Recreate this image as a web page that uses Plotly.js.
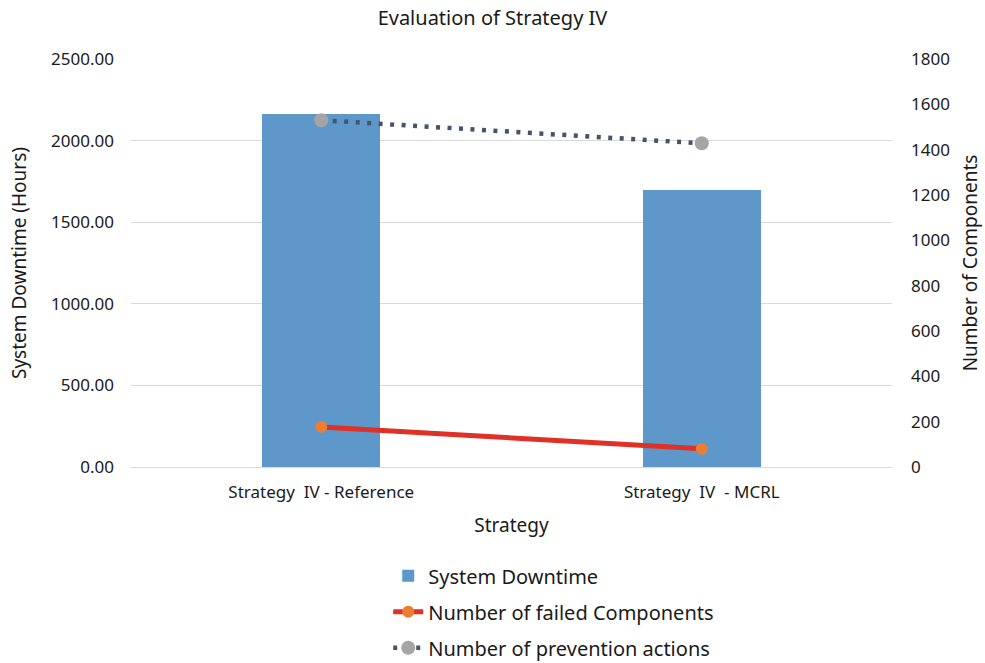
<!DOCTYPE html>
<html>
<head>
<meta charset="utf-8">
<script src="https://cdn.plot.ly/plotly-3.0.1.min.js"></script>
<style>html,body{margin:0;padding:0;background:#fff;}#chart{width:985px;height:663px;}</style>
</head>
<body>
<div id="chart"></div>
<script>
const categories = ["Strategy  IV - Reference", "Strategy  IV  - MCRL"];
const systemDowntime = [2165, 1698];
const failedComponents = [177, 80];
const preventionActions = [1530, 1428];

const FONT = "Noto Sans, Open Sans, sans-serif";
const TXT = "#1a1a1a";

const traces = [
  {
    type: "bar", name: "System Downtime", x: categories, y: systemDowntime,
    marker: {color: "#5E97CA", line: {width: 0}}, width: 0.31, yaxis: "y",
    legendgroup: "a"
  },
  {
    type: "scatter", mode: "lines+markers", name: "Number of failed Components",
    x: categories, y: failedComponents, yaxis: "y2", legendgroup: "b",
    line: {color: "#E03127", width: 5},
    marker: {color: "#ED7D31", size: 12}
  },
  {
    type: "scatter", mode: "lines+markers", name: "Number of prevention actions",
    x: categories, y: preventionActions, yaxis: "y2", legendgroup: "c",
    line: {color: "#44546A", width: 4.5, dash: "4px,7.5px"},
    marker: {color: "#A5A5A5", size: 14}
  }
];

const layout = {
  width: 985, height: 663,
  margin: {l: 130.5, r: 92.5, t: 59, b: 196, autoexpand: false},
  paper_bgcolor: "#fff", plot_bgcolor: "#fff",
  font: {family: FONT, size: 17, color: TXT},
  title: {text: "Evaluation of Strategy IV", x: 0.5, xanchor: "center", y: 0.973, yanchor: "middle", font: {size: 20, color: TXT}},
  xaxis: {
    type: "category",
    showgrid: false, showline: true, linecolor: "#d9d9d9", ticks: "",
    tickfont: {size: 17, color: TXT}, ticklabelstandoff: 10,
    title: {text: "Strategy", font: {size: 19, color: TXT}, standoff: 16}
  },
  yaxis: {
    range: [0, 2500], dtick: 500, tickformat: ".2f",
    showgrid: true, gridcolor: "#d9d9d9", gridwidth: 1, zeroline: false,
    showline: false, ticks: "", tickfont: {size: 17, color: TXT}, ticklabelstandoff: 16,
    title: {text: "System Downtime (Hours)", font: {size: 19, color: TXT}, standoff: 19}
  },
  yaxis2: {
    overlaying: "y", side: "right",
    range: [0, 1800], dtick: 200,
    showgrid: false, zeroline: false, showline: false, ticks: "",
    tickfont: {size: 17, color: TXT}, ticklabelstandoff: 18,
    title: {text: "Number of Components", font: {size: 19, color: TXT}, standoff: 14}
  },
  bargap: 0,
  showlegend: true,
  legend: {
    orientation: "v", x: 0.338, xanchor: "left", yref: "container", y: 0.161, yanchor: "top",
    font: {size: 20, color: TXT}, tracegroupgap: 7,
    traceorder: "grouped", bgcolor: "rgba(0,0,0,0)"
  }
};

Plotly.newPlot("chart", traces, layout, {displayModeBar: false, staticPlot: true});
</script>
</body>
</html>
